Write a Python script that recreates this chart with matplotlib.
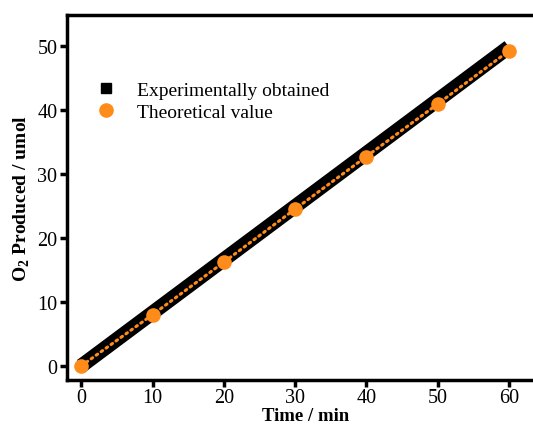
import matplotlib
matplotlib.use("Agg")
import matplotlib.pyplot as plt
from matplotlib.lines import Line2D

time_exp = [0, 10, 20, 30, 40, 50, 60]
o2_exp = [0, 8.3, 16.6, 24.9, 33.2, 41.5, 49.8]
time_theo = [0, 10, 20, 30, 40, 50, 60]
o2_theo = [0, 8.0, 16.2, 24.5, 32.7, 40.9, 49.2]
xticks = [0, 10, 20, 30, 40, 50, 60]
yticks = [0, 10, 20, 30, 40, 50]

plt.rcParams['font.family'] = ['Liberation Serif', 'DejaVu Serif']
plt.rcParams['mathtext.fontset'] = 'custom'
plt.rcParams['mathtext.rm'] = 'Liberation Serif'
plt.rcParams['mathtext.bf'] = 'Liberation Serif:bold'
fig = plt.figure(figsize=(5.33, 4.27), dpi=100)
ax = fig.add_axes([0.1257, 0.1077, 0.896, 0.8548])

orange = '#FF8C1A'
ax.plot(time_exp, o2_exp, color='black', lw=10.5, solid_capstyle='butt', zorder=2)
ax.plot(time_theo, o2_theo, color=orange, lw=2.2, ls=(0, (0.6, 1.4)), dash_capstyle='round', zorder=3)
ax.plot(time_theo, o2_theo, 'o', color=orange, ms=9.5, ls='none', zorder=4)

ax.set_xlim(-2, 65)
ax.set_ylim(-2.2, 54.8)
ax.set_xticks(xticks)
ax.set_yticks(yticks)
for s in ax.spines.values():
    s.set_linewidth(2.5)
ax.tick_params(direction='out', width=2.5, length=5, labelsize=14.5, pad=2)
ax.tick_params(axis='x', pad=1)
ax.set_xlabel('Time / min', fontsize=13.5, fontweight='bold', labelpad=0)
ax.set_ylabel(r'O$_\mathbf{2}$ Produced / umol', fontsize=14, fontweight='bold', labelpad=4)

handles = [Line2D([], [], marker='s', color='black', ls='none', ms=6.5),
           Line2D([], [], marker='o', color=orange, ls='none', ms=9.5)]
ax.legend(handles, ['Experimentally obtained', 'Theoretical value'], frameon=False,
          loc='upper left', bbox_to_anchor=(0.025, 0.84), fontsize=14,
          handletextpad=0.6, labelspacing=0.25, borderaxespad=0)

fig.savefig('out.png', dpi=100)
